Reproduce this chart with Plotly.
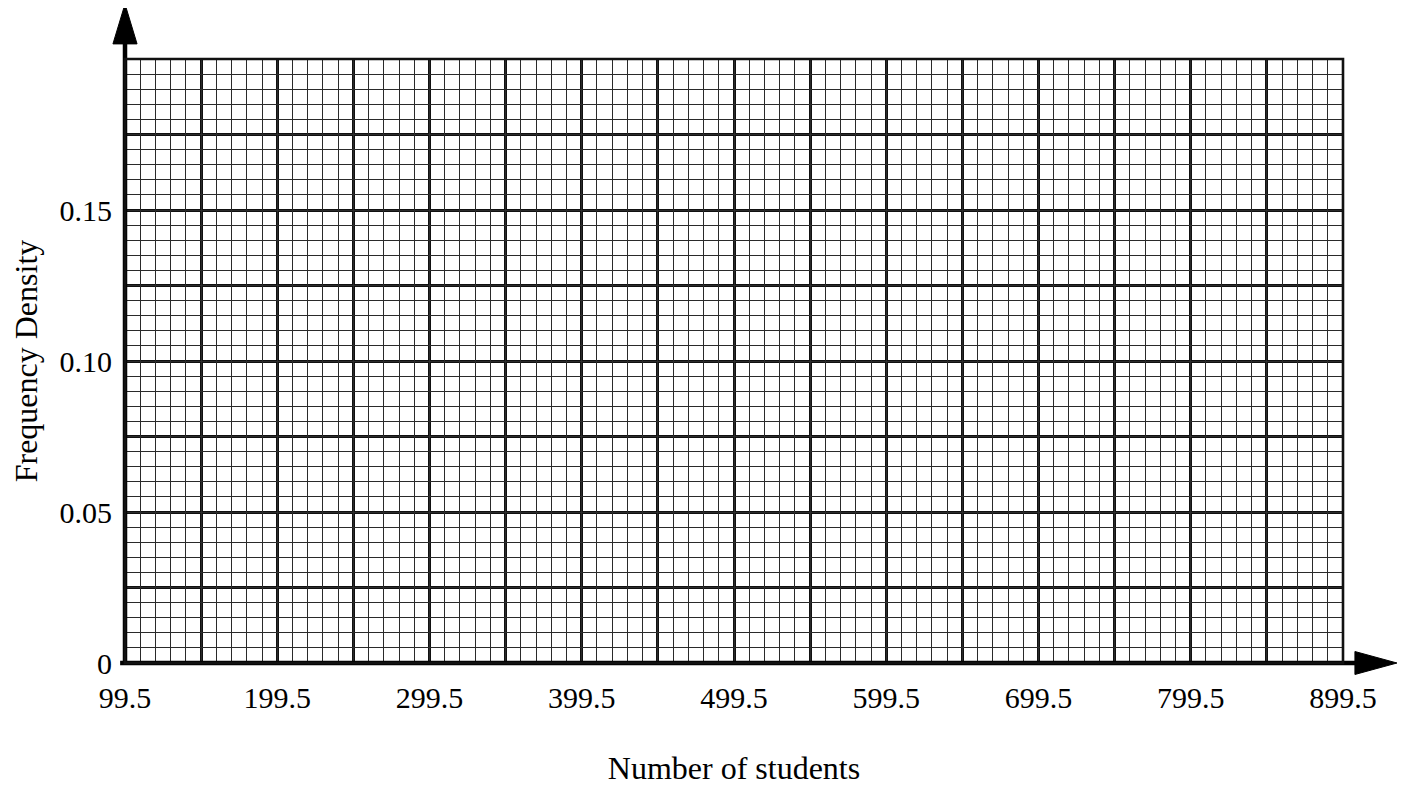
import plotly.graph_objects as go

# Axis values (blank grid paper for a histogram)
x_range = [99.5, 899.5]
y_range = [0, 0.2]
x_major_step = 50      # bold lines
y_major_step = 0.025
x_minor_step = 10      # 5 small squares per bold box
y_minor_step = 0.005
x_major_vals = [99.5, 149.5, 199.5, 249.5, 299.5, 349.5, 399.5, 449.5, 499.5,
                549.5, 599.5, 649.5, 699.5, 749.5, 799.5, 849.5, 899.5]
x_major_text = ["99.5", "", "199.5", "", "299.5", "", "399.5", "", "499.5",
                "", "599.5", "", "699.5", "", "799.5", "", "899.5"]
y_major_vals = [0, 0.025, 0.05, 0.075, 0.10, 0.125, 0.15, 0.175, 0.2]
y_major_text = ["0", "", "0.05", "", "0.10", "", "0.15", "", ""]

x_title = "Number of students"
y_title = "Frequency Density"

FONT = "Liberation Serif"

fig = go.Figure()
# invisible traces that span the axes (main = bold grid + labels, overlay = fine grid)
fig.add_trace(go.Scatter(x=x_range, y=y_range, mode="markers",
                         marker=dict(opacity=0), hoverinfo="skip",
                         showlegend=False))
fig.add_trace(go.Scatter(x=x_range, y=y_range, mode="markers", xaxis="x2", yaxis="y2",
                         marker=dict(opacity=0), hoverinfo="skip",
                         showlegend=False))

# page body adds an 8px offset, so the figure is sized to stay inside the window
fig.update_layout(
    width=1393, height=778,
    margin=dict(l=117, r=58, t=51, b=123),
    paper_bgcolor="white", plot_bgcolor="white",
    font=dict(family=FONT, size=30, color="black"),
    showlegend=False,
    xaxis=dict(
        range=x_range, tickmode="array", tickvals=x_major_vals, ticktext=x_major_text,
        showgrid=True, gridcolor="#111", gridwidth=2.6,
        zeroline=False, showline=False, ticks="", ticklabelstandoff=14,
        automargin=False, tickfont=dict(family=FONT, size=30),
        title=dict(text=x_title, font=dict(family=FONT, size=32), standoff=55),
    ),
    yaxis=dict(
        range=y_range, tickmode="array", tickvals=y_major_vals, ticktext=y_major_text,
        showgrid=True, gridcolor="#111", gridwidth=2.6,
        zeroline=False, showline=False, ticks="", ticklabelstandoff=12,
        automargin=False, tickfont=dict(family=FONT, size=30),
        title=dict(text=y_title, font=dict(family=FONT, size=32), standoff=14),
    ),
    xaxis2=dict(
        overlaying="x", anchor="y2", side="bottom", range=x_range,
        tickmode="linear", tick0=x_range[0], dtick=x_minor_step,
        showgrid=True, gridcolor="#2a2a2a", gridwidth=1.3,
        showticklabels=False, ticks="", zeroline=False, showline=False,
    ),
    yaxis2=dict(
        overlaying="y", anchor="x2", side="left", range=y_range,
        tickmode="linear", tick0=y_range[0], dtick=y_minor_step,
        showgrid=True, gridcolor="#2a2a2a", gridwidth=1.3,
        showticklabels=False, ticks="", zeroline=False, showline=False,
    ),
)

# Axes with arrowheads (paper coordinates, extending past the grid)
ax_col = "black"
fig.add_shape(type="line", xref="paper", yref="paper", x0=0, x1=0, y0=0, y1=1.03,
              line=dict(color=ax_col, width=4.5))
fig.add_shape(type="line", xref="paper", yref="paper", x0=-0.004, x1=1.01, y0=0, y1=0,
              line=dict(color=ax_col, width=4.5))
fig.add_shape(type="path", xref="paper", yref="paper",
              path="M -0.0099 1.025 L 0 1.091 L 0.0099 1.025 Z",
              fillcolor=ax_col, line=dict(color=ax_col, width=1))
fig.add_shape(type="path", xref="paper", yref="paper",
              path="M 1.0098 0.019 L 1.0443 0 L 1.0098 -0.019 Z",
              fillcolor=ax_col, line=dict(color=ax_col, width=1))
# right and top border of the grid
fig.add_shape(type="rect", xref="paper", yref="paper", x0=0, x1=1, y0=0, y1=1,
              line=dict(color="#111", width=2.6))

fig.write_html("out.html")
